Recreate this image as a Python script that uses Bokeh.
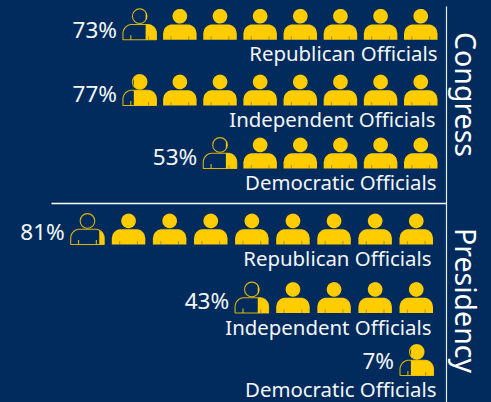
import math
import numpy as np
from bokeh.plotting import figure
from bokeh.embed import file_html
from bokeh.resources import INLINE
from bokeh.core.properties import value

groups = ["Congress", "Congress", "Congress", "Presidency", "Presidency", "Presidency"]
parties = ["Republican Officials", "Independent Officials", "Democratic Officials",
           "Republican Officials", "Independent Officials", "Democratic Officials"]
percent = [73, 77, 53, 81, 43, 7]

NAVY = "#002B5C"
GOLD = "#FFCC00"
W, H = 491, 402

# layout per row
base_y = [39.3, 105, 168, 244, 312.5, 375]
right_x = [437, 437, 437, 432.5, 432.5, 433]
pitch = [40.15, 40.15, 40.15, 41.1, 41.1, 41.1]
label_right = [437, 435, 436, 431, 431, 436]
label_mid = [52.5, 118.5, 181.5, 257.5, 326.5, 388.5]
pct_mid = [29, 93, 156, 230.5, 300, 360]


def body_outline(x0, w, yb, h):
    """Closed shoulder outline in screen-like coordinates (y grows downwards)."""
    r = 0.27 * w
    t = np.linspace(0, math.pi / 2, 14)
    lx = x0 + r - r * np.cos(t)
    ly = yb - h + r * (1 - np.sin(t))
    rx = x0 + w - r + r * np.sin(t)
    ry = yb - h + r * (1 - np.cos(t))
    xs = np.concatenate([[x0], lx, rx, [x0 + w, x0]])
    ys = np.concatenate([[yb], ly, ry, [yb, yb]])
    return xs, ys


def top_of_body(x, x0, w, yb, h):
    r = 0.27 * w
    top = yb - h
    if x < x0 + r:
        return top + r - math.sqrt(max(r * r - (x0 + r - x) ** 2, 0))
    if x > x0 + w - r:
        return top + r - math.sqrt(max(r * r - (x - (x0 + w - r)) ** 2, 0))
    return top


def body_fill(x0, w, yb, h, cut):
    xs = np.linspace(cut, x0 + w, 40)
    ys = [top_of_body(v, x0, w, yb, h) for v in xs]
    return list(xs) + [x0 + w, cut], ys + [yb, yb]


def head_fill(cx, cy, r, cut):
    lo = max(cut, cx - r)
    if lo >= cx + r:
        return None
    a0 = math.acos(min(1.0, max(-1.0, (lo - cx) / r)))
    t = np.linspace(-a0, a0, 50)
    return list(cx + r * np.cos(t)), list(cy + r * np.sin(t))


p = figure(width=W, height=H, x_range=(0, W), y_range=(H, 0), output_backend="svg",
           toolbar_location=None, background_fill_color=NAVY, border_fill_color=NAVY,
           min_border=0, outline_line_color=None)
p.axis.visible = False
p.grid.visible = False

fx, fy, ox, oy, hx, hy, hr, gx, gy, sx, sy = [], [], [], [], [], [], [], [], [], [], []
ex, ey = [], []
for i, pct in enumerate(percent):
    n = math.ceil(pct / 10)
    frac = pct / 10 - math.floor(pct / 10)
    wd = 33.5
    bh = 15.3
    for k in range(n):
        x0 = right_x[i] - wd - (n - 1 - k) * pitch[i]
        cx = x0 + wd / 2
        cy = base_y[i] - 23.6
        rad = 7.3
        a1, a2 = x0 + 0.235 * wd, x0 + 0.765 * wd
        if k == 0 and frac > 0:
            # the icon artwork has a little padding, so the cut sits slightly inward
            shown = frac + (0.5 - frac) * 0.12
            cut = x0 + wd * (1 - shown)
            bx, by = body_outline(x0, wd, base_y[i], bh)
            ox.append(list(bx)); oy.append(list(by))
            hx.append(cx); hy.append(cy); hr.append(rad)
            for a in (a1, a2):
                if a < cut:
                    ex.append([a, a]); ey.append([base_y[i] - 4.5, base_y[i]])
        else:
            cut = x0
        b = body_fill(x0, wd, base_y[i], bh, cut)
        fx.append(b[0]); fy.append(b[1])
        c = head_fill(cx, cy, rad, cut)
        if c:
            gx.append(c[0]); gy.append(c[1])
        for a in (a1, a2):
            if a >= cut:
                sx.append([a, a]); sy.append([base_y[i] - 3.5, base_y[i]])

p.patches(ox, oy, fill_color=None, line_color=GOLD, line_width=1.1, line_alpha=0.85)
p.scatter(hx, hy, size=[2 * r for r in hr], marker="circle", fill_color=None,
          line_color=GOLD, line_width=1.1, line_alpha=0.85)
p.multi_line(ex, ey, line_color=GOLD, line_width=1.1, line_alpha=0.85)
p.patches(fx, fy, fill_color=GOLD, line_color=None)
p.patches(gx, gy, fill_color=GOLD, line_color=None)
p.multi_line(sx, sy, line_color=NAVY, line_width=0.8, line_alpha=0.45)

FONT = "Noto Sans"
p.text(label_right, label_mid, text=parties, text_color="#F4F6F8", text_font=value(FONT),
       text_font_size="20.4px", text_align="right", text_baseline="middle")

pct_x = [right_x[i] - math.ceil(v / 10) * pitch[i] + pitch[i] - 33.5 - 6 for i, v in enumerate(percent)]
p.text(pct_x, pct_mid, text=[f"{v}%" for v in percent], text_color="#F4F6F8", text_font=value(FONT),
       text_font_size="22.5px", text_align="right", text_baseline="middle")

section_names = list(dict.fromkeys(groups))
p.text([465, 465], [94, 300], text=section_names, angle=-math.pi / 2, text_color="#FFFFFF",
       text_font=value(FONT), text_font_size="28.5px", text_align="center", text_baseline="middle")

p.line([446, 446], [6, 402], line_color="#E8ECF1", line_width=1.2)
p.line([51, 446], [203, 203], line_color="#FFFFFF", line_width=1.6)

html = file_html(p, INLINE)
html = html.replace("<head>", "<head><style>html,body{margin:0;padding:0;background:#002B5C;overflow:hidden}</style>", 1)
open("out.html", "w").write(html)
